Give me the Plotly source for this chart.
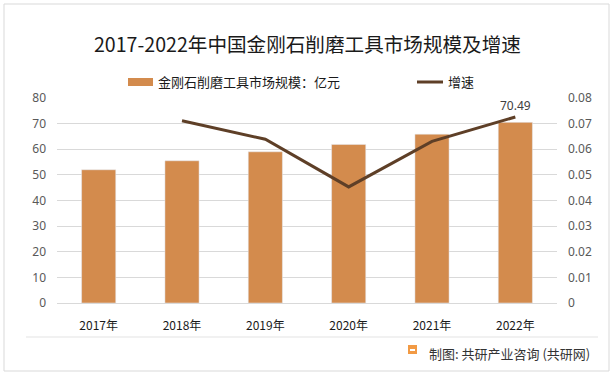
import plotly.graph_objects as go

years = ["2017年", "2018年", "2019年", "2020年", "2021年", "2022年"]
market_size = [52.0, 55.5, 59.0, 61.9, 65.9, 70.49]
growth = [None, 0.0711, 0.0639, 0.0453, 0.0631, 0.0726]
bar_labels = ["", "", "", "", "", "70.49"]

title_text = "2017-2022年中国金刚石削磨工具市场规模及增速"
legend_bar = "金刚石削磨工具市场规模：亿元"
legend_line = "增速"
source_text = "制图: 共研产业咨询 (共研网)"

CJK = "Noto Sans CJK SC"
BAR = "#D38B4D"
LINE = "#5E3F27"
GRID = "#D9D9D9"

fig = go.Figure()
fig.add_trace(go.Bar(x=years, y=market_size, marker_color=BAR, name=legend_bar,
                     yaxis="y", showlegend=False))
fig.add_trace(go.Scatter(x=years, y=growth, mode="lines", line=dict(color=LINE, width=3),
                         name=legend_line, yaxis="y2", showlegend=False))

# data label for last bar
for xv, yv, t in zip(years, market_size, bar_labels):
    if t:
        fig.add_annotation(x=xv, y=yv, xref="x", yref="y", text=t, showarrow=False,
                           yanchor="bottom", yshift=6,
                           font=dict(family="Noto Sans, " + CJK, size=12, color="#404040"))

W, H = 614, 376
L, R, T, B = 57, 57, 98, 73
pw, ph = W - L - R, H - T - B

def px(x):
    return (x - L) / pw

def py(y):
    return (H - B - y) / ph

shapes = [
    dict(type="rect", xref="paper", yref="paper", x0=px(4), x1=px(609), y0=py(371), y1=py(4),
         line=dict(color=GRID, width=1), fillcolor="rgba(0,0,0,0)", layer="below"),
    dict(type="line", xref="paper", yref="paper", x0=px(26), x1=px(598), y0=py(337), y1=py(337),
         line=dict(color="#E3E3E3", width=1)),
    # legend swatches
    dict(type="rect", xref="paper", yref="paper", x0=px(128), x1=px(153), y0=py(86), y1=py(78),
         line=dict(width=0), fillcolor=BAR),
    dict(type="line", xref="paper", yref="paper", x0=px(417), x1=px(443), y0=py(82), y1=py(82),
         line=dict(color=LINE, width=3)),
    # logo
    dict(type="rect", xref="paper", yref="paper", x0=px(408), x1=px(417), y0=py(354), y1=py(345),
         line=dict(width=0), fillcolor="#F29A44"),
    dict(type="rect", xref="paper", yref="paper", x0=px(410), x1=px(415), y0=py(351), y1=py(349),
         line=dict(width=0), fillcolor="#FFFFFF"),
]

annotations = [
    dict(xref="paper", yref="paper", x=0.5, y=py(43), text=title_text, showarrow=False,
         xanchor="center", yanchor="middle", font=dict(family=CJK, size=19.6, color="#1A1A1A")),
    dict(xref="paper", yref="paper", x=px(156), y=py(82), text=legend_bar, showarrow=False,
         xanchor="left", yanchor="middle", font=dict(family=CJK, size=13, color="#1A1A1A")),
    dict(xref="paper", yref="paper", x=px(446), y=py(82), text=legend_line, showarrow=False,
         xanchor="left", yanchor="middle", font=dict(family=CJK, size=13, color="#1A1A1A")),
    dict(xref="paper", yref="paper", x=px(427), y=py(353), text=source_text, showarrow=False,
         xanchor="left", yanchor="middle", font=dict(family=CJK, size=13, color="#333333")),
]
for a in annotations:
    fig.add_annotation(**a)

fig.update_layout(
    width=W, height=H,
    margin=dict(l=L, r=R, t=T, b=B, pad=0),
    paper_bgcolor="white", plot_bgcolor="white",
    bargap=0.59,
    showlegend=False,
    shapes=shapes,
    xaxis=dict(type="category", showgrid=False, showline=True, linecolor=GRID, linewidth=1,
               ticks="", ticklabelstandoff=12,
               tickfont=dict(family=CJK, size=12, color="#1A1A1A")),
    yaxis=dict(range=[0, 80], dtick=10, showgrid=True, gridcolor=GRID, gridwidth=1,
               zeroline=False, showline=False, ticks="", ticklabelstandoff=10,
               tickfont=dict(family="Noto Sans", size=12, color="#595959")),
    yaxis2=dict(range=[0, 0.08], dtick=0.01, overlaying="y", side="right", showgrid=False,
                zeroline=False, showline=False, ticks="", ticklabelstandoff=10,
                tickformat="~g",
                tickfont=dict(family="Noto Sans", size=12, color="#595959")),
)

fig.write_html("out.html", config={"displayModeBar": False},
               post_script="document.body.style.margin='0px';")
